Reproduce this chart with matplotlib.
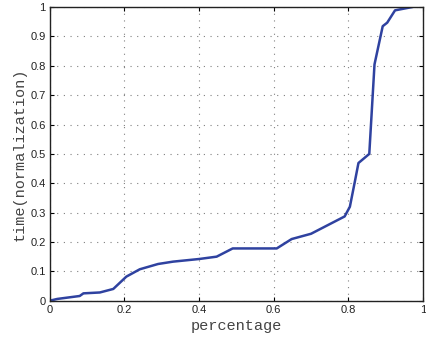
import matplotlib
matplotlib.use("Agg")
import matplotlib.pyplot as plt

# Normalized time vs. percentage of completed items
percentage = [0.0, 0.02, 0.05, 0.08, 0.09, 0.134, 0.17, 0.205, 0.241, 0.29, 0.33,
              0.40, 0.447, 0.49, 0.608, 0.648, 0.70, 0.79, 0.804, 0.818, 0.827,
              0.856, 0.870, 0.892, 0.904, 0.925, 0.97]
time_norm = [0.0, 0.006, 0.011, 0.016, 0.025, 0.028, 0.04, 0.082, 0.107, 0.125, 0.133,
             0.142, 0.15, 0.178, 0.178, 0.21, 0.228, 0.287, 0.32, 0.41, 0.469,
             0.50, 0.805, 0.935, 0.947, 0.989, 1.0]

x_ticks = [0, 0.2, 0.4, 0.6, 0.8, 1]
x_tick_labels = ["0", "0.2", "0.4", "0.6", "0.8", "1"]
y_ticks = [0, 0.1, 0.2, 0.3, 0.4, 0.5, 0.6, 0.7, 0.8, 0.9, 1]
y_tick_labels = ["0", "0.1", "0.2", "0.3", "0.4", "0.5", "0.6", "0.7", "0.8", "0.9", "1"]

fig = plt.figure(figsize=(4.26, 3.39), dpi=100)
ax = fig.add_axes([0.117, 0.113, 0.876, 0.866])

ax.plot(percentage, time_norm, color="#2f42a0", linewidth=1.8, solid_joinstyle="round")

ax.set_xlim(0, 1)
ax.set_ylim(0, 1)
ax.set_xticks(x_ticks)
ax.set_xticklabels(x_tick_labels)
ax.set_yticks(y_ticks)
ax.set_yticklabels(y_tick_labels)

ax.grid(True, linestyle=(0, (1, 5)), color="#808080", linewidth=0.8)
ax.tick_params(direction="in", top=True, right=True, length=3, width=0.8,
               labelsize=8, pad=3, labelcolor="#222222")
for lab in ax.get_xticklabels() + ax.get_yticklabels():
    lab.set_family("Liberation Sans")
for sp in ax.spines.values():
    sp.set_linewidth(1.0)
    sp.set_color("#222222")

ax.set_xlabel("percentage", family="Liberation Mono", fontsize=11, labelpad=3, color="#444444")
ax.set_ylabel("time(normalization)", family="Liberation Mono", fontsize=11, labelpad=3, color="#444444")

fig.savefig("out.png", dpi=100)
